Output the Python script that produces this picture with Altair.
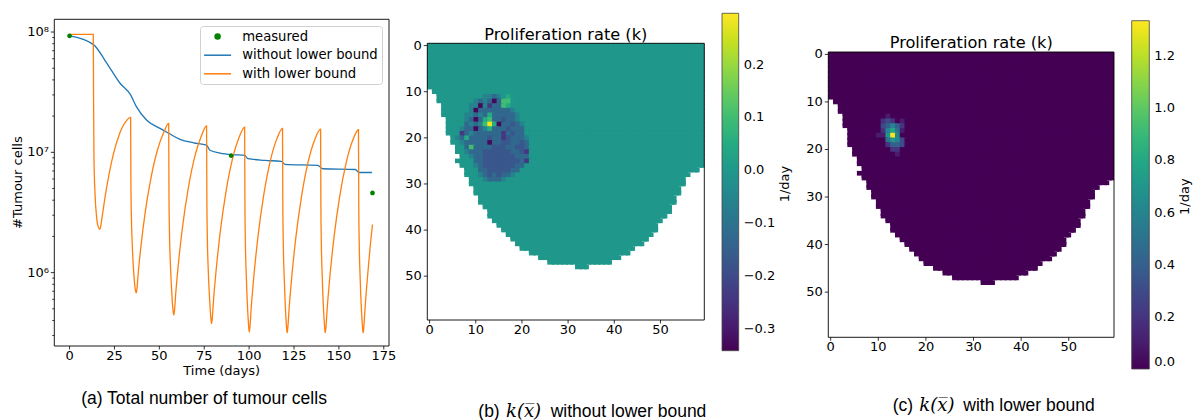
import altair as alt
import pandas as pd

# ---------------- Panel (a): total number of tumour cells ----------------
orange_t = [0, 13.2, 13.35, 13.6, 14.2, 15.0, 16.0, 16.9,
            17.5, 18.5, 20.0, 22.0, 24.5, 28.0, 31.5, 34.0,
            34.15, 34.4, 34.9, 35.6, 36.3, 36.8, 37.2,
            37.6, 38.2, 39.6, 42.2, 45.2, 48.9, 52.6, 55.2,
            55.35, 55.6, 56.1, 56.8, 57.4, 57.8, 58.1,
            58.5, 59.1, 60.5, 63.1, 66.1, 69.8, 73.5, 76.3,
            76.45, 76.7, 77.2, 77.9, 78.5, 78.9, 79.1,
            79.5, 80.1, 81.5, 84.1, 87.1, 90.8, 94.5, 97.5,
            97.65, 97.9, 98.4, 99.0, 99.6, 99.9, 100.1,
            100.5, 101.1, 102.5, 105.1, 108.1, 111.8, 115.5, 118.6,
            118.75, 119.0, 119.5, 120.1, 120.7, 121.0, 121.2,
            121.6, 122.2, 123.6, 126.2, 129.2, 132.9, 136.6, 139.8,
            139.95, 140.2, 140.7, 141.3, 141.9, 142.2, 142.4,
            142.8, 143.4, 144.8, 147.4, 150.4, 154.1, 157.8, 160.9,
            161.05, 161.3, 161.8, 162.4, 163.0, 163.3, 163.5,
            163.9, 164.5, 165.9, 167.3, 168.7]
orange_n = [9.55e7, 9.55e7, 3.16e7, 8.9e6, 4.47e6, 2.95e6, 2.4e6, 2.29e6,
            2.51e6, 3.16e6, 4.47e6, 6.6e6, 9.8e6, 1.45e7, 1.82e7, 1.95e7,
            6.0e6, 3.1e6, 1.74e6, 1.07e6, 7.9e5, 7.0e5, 6.8e5,
            7.5e5, 9.75e5, 1.58e6, 3.23e6, 5.97e6, 1.04e7, 1.48e7, 1.74e7,
            4.8e6, 2.31e6, 1.24e6, 7.4e5, 5.25e5, 4.6e5, 4.44e5,
            4.94e5, 6.6e5, 1.14e6, 2.52e6, 5.02e6, 9.3e6, 1.38e7, 1.66e7,
            4.42e6, 2.07e6, 1.09e6, 6.4e5, 4.55e5, 3.91e5, 3.77e5,
            4.22e5, 5.7e5, 1.0e6, 2.29e6, 4.69e6, 8.9e6, 1.34e7, 1.62e7,
            4.11e6, 1.87e6, 9.6e5, 5.56e5, 3.84e5, 3.34e5, 3.21e5,
            3.61e5, 4.93e5, 8.85e5, 2.09e6, 4.38e6, 8.5e6, 1.3e7, 1.58e7,
            4.03e6, 1.84e6, 9.46e5, 5.47e5, 3.77e5, 3.29e5, 3.16e5,
            3.56e5, 4.85e5, 8.71e5, 2.06e6, 4.31e6, 8.36e6, 1.28e7, 1.56e7,
            3.98e6, 1.83e6, 9.42e5, 5.46e5, 3.77e5, 3.29e5, 3.16e5,
            3.56e5, 4.85e5, 8.69e5, 2.04e6, 4.27e6, 8.26e6, 1.27e7, 1.54e7,
            3.94e6, 1.82e6, 9.38e5, 5.45e5, 3.77e5, 3.29e5, 3.16e5,
            3.56e5, 4.9e5, 9.1e5, 1.58e6, 2.51e6]

blue_t = [0, 13.2, 20.6, 28, 34, 37.2, 43, 50.4, 55.2, 61.5, 69, 76.3, 78.2,
          83.8, 90.6, 97.6, 99.3, 108.9, 117.9, 120, 138.3, 141, 159.2, 161, 168.4]
blue_n = [9.3e7, 7.9e7, 5.55e7, 3.77e7, 3.0e7, 2.4e7, 1.85e7, 1.58e7, 1.44e7,
          1.28e7, 1.2e7, 1.15e7, 1.04e7, 9.87e6, 9.57e6, 9.44e6, 8.86e6, 8.57e6,
          8.4e6, 7.94e6, 7.78e6, 7.3e6, 7.2e6, 6.8e6, 6.8e6]

meas_t = [0, 90, 168.7]
meas_n = [9.3e7, 9.4e6, 4.6e6]

series_names = ["measured", "without lower bound", "with lower bound"]
series_colors = ["#008000", "#1f77b4", "#ff7f0e"]

time_ticks = [0, 25, 50, 75, 100, 125, 150, 175]
count_major = [1e6, 1e7, 1e8]
count_major_labels = ["10\u2076", "10\u2077", "10\u2078"]
count_minor = [3e5, 4e5, 5e5, 6e5, 7e5, 8e5, 9e5,
               2e6, 3e6, 4e6, 5e6, 6e6, 7e6, 8e6, 9e6,
               2e7, 3e7, 4e7, 5e7, 6e7, 7e7, 8e7, 9e7]

# ---------------- Panels (b), (c): proliferation-rate maps ----------------
# per image row (0..48): first and last filled column of the domain mask
mask_left = [0, 0, 0, 0, 0, 0, 0, 0, 0, 0,
             1, 2, 2, 3, 3, 3, 4, 4, 4, 4,
             5, 5, 6, 6, 7, 6, 7, 8, 8, 9,
             9, 10, 10, 11, 11, 12, 13, 13, 14, 15,
             16, 17, 18, 19, 20, 22, 24, 26, 32]
mask_right = [59, 59, 59, 59, 59, 59, 59, 59, 59, 59,
              59, 59, 59, 59, 59, 59, 59, 59, 59, 59,
              59, 59, 59, 59, 59, 59, 59, 58, 56, 55,
              55, 54, 54, 53, 53, 52, 52, 51, 50, 49,
              49, 48, 47, 46, 44, 43, 41, 39, 34]

# (b) without lower bound: rows 11..29, columns 6..21
blob_b_row0, blob_b_col0 = 11, 6
blob_b = ["......ttbt.g....",
          "....tbtbPbGG....",
          "...ttPtpbbGg....",
          "...tPbbbbbbbt...",
          "..ttbtbgbbbbbt..",
          "..tbPbgGbbBbbt..",
          "..btbtGYgPbbBbt.",
          ".tbbPbtgbbbBbbb.",
          ".pbtbbbbbbpbBbb.",
          "tbgbbbbBbbpBbbbt",
          ".tbbbbbPbbBBbbBb",
          "..bGbbbbBBBbbBBb",
          "..tbbbBBBBBBbbBp",
          "...tbbBBBBBBBbbb",
          "....bbBBBBBBBBbp",
          "....tbBBBBBBBbb.",
          ".....bbBBBBBbb..",
          ".....tbBbBbbt...",
          "......tbbbt....."]
codes_b = {"t": -0.06, "b": -0.13, "B": -0.17, "p": -0.24, "P": -0.33,
           "g": 0.05, "G": 0.10, "Y": 0.29}
background_b = 0.0
domain_b = [-0.342, 0.297]
ticks_b = [-0.3, -0.2, -0.1, 0.0, 0.1, 0.2]

# (c) with lower bound: rows 13..21, columns 10..16
blob_c_row0, blob_c_col0 = 13, 10
blob_c = ["..1....",
          ".232.1.",
          ".34642.",
          ".26851.",
          "117Y6..",
          "..5763.",
          "..2443.",
          "...22..",
          "....1.."]
codes_c = {"1": 0.1, "2": 0.2, "3": 0.3, "4": 0.4, "5": 0.5, "6": 0.6,
           "7": 0.7, "8": 0.8, "Y": 1.33}
background_c = 0.0
domain_c = [0.0, 1.336]
ticks_c = [0.0, 0.2, 0.4, 0.6, 0.8, 1.0, 1.2]
grid_ticks = [0, 10, 20, 30, 40, 50]

panel_title = "Proliferation rate (k)"
unit_label = "1/day"
x_title_a = "Time (days)"
y_title_a = "#Tumour cells"
captions = ["(a) Total number of tumour cells", "(b)", "without lower bound",
            "(c)", "with lower bound"]
math_label = "k(x\u0305)"

# ---------------- tables ----------------
df_lines = pd.concat([
    pd.DataFrame({"t": blue_t, "n": blue_n, "series": series_names[1]}),
    pd.DataFrame({"t": orange_t, "n": orange_n, "series": series_names[2]}),
])
df_meas = pd.DataFrame({"t": meas_t, "n": meas_n, "series": series_names[0]})
df_xt_a = pd.DataFrame({"v": time_ticks, "lab": [str(v) for v in time_ticks]})
df_yt_major = pd.DataFrame({"v": count_major, "lab": count_major_labels})
df_yt_minor = pd.DataFrame({"v": count_minor})
df_grid_ticks = pd.DataFrame({"v": grid_ticks, "lab": [str(v) for v in grid_ticks]})


def in_mask(r, c):
    return 0 <= r < len(mask_left) and mask_left[r] <= c <= mask_right[r]


def grid_table(background, blob, r0, c0, codes):
    over = {}
    for i, line in enumerate(blob):
        for j, ch in enumerate(line):
            if ch in codes:
                over[(r0 + i, c0 + j)] = codes[ch]
    recs = []
    for r, (lo, hi) in enumerate(zip(mask_left, mask_right)):
        for c in range(lo, hi + 1):
            # cells overlap the next cell (drawn later) to hide anti-alias seams
            ext_x = in_mask(r, c + 1)
            ext_y = in_mask(r + 1, c) and (not ext_x or in_mask(r + 1, c + 1))
            recs.append({"k": over.get((r, c), background),
                         "x0": c - 0.5, "x1": c + (1.0 if ext_x else 0.5),
                         "y0": r - 0.5, "y1": r + (1.0 if ext_y else 0.5)})
    return pd.DataFrame(recs)


df_b = grid_table(background_b, blob_b, blob_b_row0, blob_b_col0, codes_b)
df_c = grid_table(background_c, blob_c, blob_c_row0, blob_c_col0, codes_c)
anno = pd.DataFrame({"i": [0]})

W, H = 1197, 420
FONT = "DejaVu Sans"
TICK = dict(color="black", strokeWidth=0.8)


def xticks(df, scale, y_axis, length, label_y, size=13):
    rules = alt.Chart(df).mark_rule(**TICK).encode(
        x=alt.X("v:Q", scale=scale, axis=None),
        y=alt.value(y_axis), y2=alt.value(y_axis + length))
    labels = alt.Chart(df).mark_text(font=FONT, fontSize=size, color="black",
                                     align="center", baseline="middle").encode(
        x=alt.X("v:Q", scale=scale, axis=None), y=alt.value(label_y), text="lab:N")
    return [rules, labels]


def yticks(df, scale, x_axis, length, label_x=None, size=13):
    rules = alt.Chart(df).mark_rule(**TICK).encode(
        y=alt.Y("v:Q", scale=scale, axis=None),
        x=alt.value(x_axis - length), x2=alt.value(x_axis))
    out = [rules]
    if label_x is not None:
        out.append(alt.Chart(df).mark_text(font=FONT, fontSize=size, color="black",
                                           align="right", baseline="middle").encode(
            y=alt.Y("v:Q", scale=scale, axis=None), x=alt.value(label_x), text="lab:N"))
    return out


# ---------------- panel (a) ----------------
A_X = [54.3, 389.0]
A_Y = [346.0, 19.3]
A_XD = [-8.5, 177.9]
A_YD = [2.455e5, 1.276e8]
xa = alt.Scale(domain=A_XD, range=A_X, nice=False, zero=False)
ya = alt.Scale(type="log", domain=A_YD, range=A_Y, nice=False)

legend_a = dict(title=None, orient="none", legendX=200, legendY=26,
                labelFont=FONT, labelFontSize=13.2, labelColor="black",
                symbolSize=25, symbolStrokeWidth=1.5, symbolOffset=7,
                labelOffset=18, padding=4, rowPadding=4.6,
                strokeColor="#d0d0d0", fillColor="white", cornerRadius=3)
color_a = alt.Scale(domain=series_names, range=series_colors)
shape_a = alt.Scale(domain=series_names,
                    range=["M-1,0A1,1 0 1,1 1,0A1,1 0 1,1 -1,0Z",
                           "M-5.4,0L5.4,0", "M-5.4,0L5.4,0"])

lines = alt.Chart(df_lines).mark_line(interpolate="monotone", strokeWidth=1.3).encode(
    x=alt.X("t:Q", scale=xa, axis=None),
    y=alt.Y("n:Q", scale=ya, axis=None),
    color=alt.Color("series:N", scale=color_a, legend=alt.Legend(**legend_a)),
)
points = alt.Chart(df_meas).mark_point(filled=True, size=22, opacity=1).encode(
    x=alt.X("t:Q", scale=xa, axis=None),
    y=alt.Y("n:Q", scale=ya, axis=None),
    color=alt.Color("series:N", scale=color_a, legend=alt.Legend(**legend_a)),
    shape=alt.Shape("series:N", scale=shape_a, legend=alt.Legend(**legend_a)),
)
frame_a = alt.Chart(anno).mark_rect(fillOpacity=0, stroke="black", strokeWidth=0.9).encode(
    x=alt.X(datum=A_XD[0], scale=xa, axis=None), x2=alt.X2(datum=A_XD[1]),
    y=alt.Y(datum=A_YD[0], scale=ya, axis=None), y2=alt.Y2(datum=A_YD[1]),
)
panel_a = alt.layer(
    lines, points, frame_a,
    *xticks(df_xt_a, xa, A_Y[0], 3.5, 355.5),
    *yticks(df_yt_major, ya, A_X[0], 3.5, label_x=49.0),
    *yticks(df_yt_minor, ya, A_X[0], 2.0),
)


# ---------------- heatmap panels ----------------
def heat(df, xr, yr, cdom, cticks, lx, ly, llen, lth):
    xs = alt.Scale(domain=[-0.5, 59.5], range=xr, nice=False, zero=False)
    ys = alt.Scale(domain=[-0.5, 59.5], range=yr, nice=False, zero=False)
    cs = alt.Scale(scheme="viridis", domain=cdom, nice=False, zero=False)
    rect = alt.Chart(df).mark_rect().encode(
        x=alt.X("x0:Q", scale=xs, axis=None),
        x2="x1:Q",
        y=alt.Y("y0:Q", scale=ys, axis=None),
        y2="y1:Q",
        color=alt.Color("k:Q", scale=cs,
                        legend=alt.Legend(orient="none", legendX=lx, legendY=ly,
                                          direction="vertical", gradientLength=llen,
                                          gradientThickness=lth, values=cticks, format=".1f",
                                          labelFont=FONT, labelFontSize=13,
                                          labelColor="black", labelOffset=5, labelOverlap=False,
                                          title=None, padding=0,
                                          gradientStrokeColor="#444", gradientStrokeWidth=0.8)),
    )
    frame = alt.Chart(anno).mark_rect(fillOpacity=0, stroke="black", strokeWidth=0.9).encode(
        x=alt.X(datum=-0.5, scale=xs, axis=None), x2=alt.X2(datum=59.5),
        y=alt.Y(datum=-0.5, scale=ys, axis=None), y2=alt.Y2(datum=59.5),
    )
    return alt.layer(
        rect, frame,
        *xticks(df_grid_ticks, xs, yr[1], 3.5, yr[1] + 10.0),
        *yticks(df_grid_ticks, ys, xr[0], 3.5, label_x=xr[0] - 5.5),
    )


panel_b = heat(df_b, [427.3, 704.3], [43.3, 320.0], domain_b, ticks_b, 722, 13.3, 337.4, 16.7)
panel_c = heat(df_c, [828.3, 1114.0], [52.0, 337.3], domain_c, ticks_c, 1131.7, 20.7, 348.3, 17.6)


def text(s, x, y, size, font=FONT, align="center", baseline="middle",
         style="normal", angle=0):
    return alt.Chart(anno).mark_text(font=font, fontSize=size, align=align, baseline=baseline,
                                     fontStyle=style, color="black", angle=angle).encode(
        x=alt.value(x), y=alt.value(y), text=alt.value(s))


texts = [
    text(x_title_a, 221.7, 370.5, 13),
    text(y_title_a, 18, 182.6, 13, angle=270),
    text(panel_title, 565.8, 34.5, 16.2),
    text(panel_title, 971.2, 42.5, 16.2),
    text(unit_label, 785, 184, 13, angle=270),
    text(unit_label, 1185, 196.7, 13, angle=270),
    text(captions[0], 204, 403.5, 17.5, font="Liberation Sans", baseline="alphabetic"),
    text(captions[1], 478.3, 417.3, 17.5, font="Liberation Sans", align="left", baseline="alphabetic"),
    text(math_label, 506, 417.3, 18, font="DejaVu Serif", align="left", baseline="alphabetic", style="italic"),
    text(captions[2], 550.7, 417.3, 17.5, font="Liberation Sans", align="left", baseline="alphabetic"),
    text(captions[3], 892.7, 411, 17.5, font="Liberation Sans", align="left", baseline="alphabetic"),
    text(math_label, 919.3, 411, 18, font="DejaVu Serif", align="left", baseline="alphabetic", style="italic"),
    text(captions[4], 963.3, 411, 17.5, font="Liberation Sans", align="left", baseline="alphabetic"),
]

chart = alt.layer(panel_a, panel_b, panel_c, *texts).resolve_scale(
    x="independent", y="independent", color="independent", shape="independent"
).resolve_legend(
    color="independent", shape="independent"
).properties(
    width=W, height=H, autosize=alt.AutoSizeParams(type="none"), padding=0
).configure_view(stroke="transparent")

chart.save("out.html", embed_options={"renderer": "svg", "actions": False})
